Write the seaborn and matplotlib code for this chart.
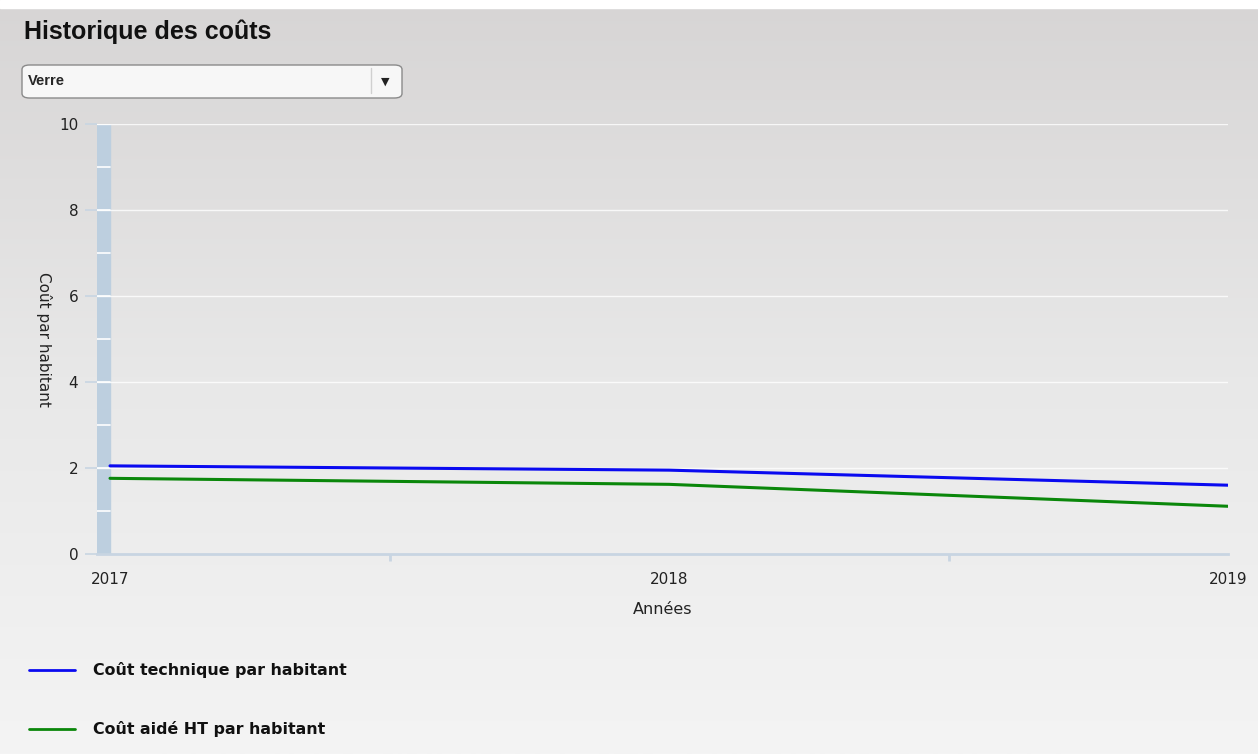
import numpy as np
import pandas as pd
import matplotlib
matplotlib.use('Agg')
import matplotlib.pyplot as plt
import seaborn as sns
from matplotlib.patches import FancyBboxPatch
from matplotlib.lines import Line2D

# données
annees = [2017, 2018, 2019]
cout_technique = [2.05, 1.95, 1.60]
cout_aide_ht = [1.76, 1.62, 1.11]
serie_tech = 'Coût technique par habitant'
serie_aide = 'Coût aidé HT par habitant'
y_ticks = [0, 2, 4, 6, 8, 10]
x_ticks = [2017, 2018, 2019]
x_minor = [2017.5, 2018.5]

df = pd.DataFrame({
    'annee': annees * 2,
    'cout': cout_technique + cout_aide_ht,
    'serie': [serie_tech] * 3 + [serie_aide] * 3,
})

sns.set_style('white')
plt.rcParams['font.family'] = ['DejaVu Sans']

fig = plt.figure(figsize=(12.58, 7.54), dpi=100)

# fond en dégradé
bg = fig.add_axes([0, 0, 1, 1], zorder=-10)
grad = np.linspace(0, 1, 256).reshape(-1, 1)
cmap = matplotlib.colors.LinearSegmentedColormap.from_list('g', ['#d7d5d5', '#e8e8e8', '#f4f4f4'])
bg.imshow(grad, aspect='auto', cmap=cmap, extent=[0, 1, 0, 1], origin='upper')
bg.axhspan(0.989, 1, color='white')
bg.set_xlim(0, 1)
bg.set_ylim(0, 1)
bg.axis('off')

# titre
fig.text(24 / 1258, 1 - 32 / 754, 'Historique des coûts', fontsize=18, fontweight='bold',
         family='Liberation Sans', va='center', ha='left', color='#111111')

# liste déroulante
box = FancyBboxPatch((22 / 1258, 1 - 98 / 754), 380 / 1258, 33 / 754,
                     boxstyle='round,pad=0,rounding_size=0.006', transform=fig.transFigure,
                     facecolor='#f7f7f7', edgecolor='#8a8a8a', lw=1.0)
fig.patches.append(box)
fig.add_artist(Line2D([371 / 1258, 371 / 1258], [1 - 93 / 754, 1 - 68 / 754],
                      transform=fig.transFigure, color='#d0d0d0', lw=1))
fig.text(28 / 1258, 1 - 81 / 754, 'Verre', fontsize=10.5, fontweight='bold',
         family='Liberation Sans', va='center', ha='left')
fig.text(385 / 1258, 1 - 82 / 754, '▼', fontsize=8, va='center', ha='center', color='#222222')

# zone du graphique
ax = fig.add_axes([97 / 1258, 1 - 554 / 754, 1131 / 1258, 430 / 754])
ax.patch.set_alpha(0)
x0 = 2017 - 13 / 559
ax.set_xlim(x0, 2019)
ax.set_ylim(0, 10)

# bande verticale
ax.axvspan(x0, 2017, color='#bdcfdf', zorder=1)
for v in range(1, 11):
    ax.plot([x0, 2017], [v, v], color='white', lw=1.2, zorder=2)
for v in y_ticks[1:]:
    ax.plot([x0, 2019], [v, v], color='white', lw=1.0, alpha=0.8, zorder=1.5)

sns.lineplot(data=df, x='annee', y='cout', hue='serie',
             palette={serie_tech: '#0a0af0', serie_aide: '#0a870a'},
             lw=2.2, ax=ax, legend=False, zorder=3)

for s in ['top', 'right', 'left']:
    ax.spines[s].set_visible(False)
ax.spines['bottom'].set_color('#c8d5e2')
ax.spines['bottom'].set_linewidth(2)

ax.set_yticks(y_ticks)
ax.set_yticklabels([str(v) for v in y_ticks])
ax.set_xticks(x_ticks)
ax.set_xticklabels([str(v) for v in x_ticks])
ax.set_xticks(x_minor, minor=True)
ax.tick_params(axis='y', length=8.5, width=1.2, color='#c8d5e2', pad=5,
               labelsize=11, labelcolor='#222222', left=True)
ax.tick_params(axis='x', which='major', length=0, pad=13, labelsize=11, labelcolor='#222222')
ax.tick_params(axis='x', which='minor', length=5, width=2, color='#c8d5e2', bottom=True)

ax.set_xlabel('Années', fontsize=11.5, color='#222222', labelpad=11)
ax.set_ylabel('Coût par habitant', fontsize=11, color='#222222', rotation=270, labelpad=30)
ax.yaxis.set_label_coords(-0.054, 0.5)

# légende
for yy, col, txt in [(670, '#0a0af0', serie_tech), (729, '#0a870a', serie_aide)]:
    fig.add_artist(Line2D([29 / 1258, 75 / 1258], [1 - yy / 754, 1 - yy / 754],
                          transform=fig.transFigure, color=col, lw=2))
    fig.text(93 / 1258, 1 - yy / 754, txt, fontsize=11.4, fontweight='bold',
             va='center', ha='left', color='#111111')

fig.savefig('out.png', dpi=100)
